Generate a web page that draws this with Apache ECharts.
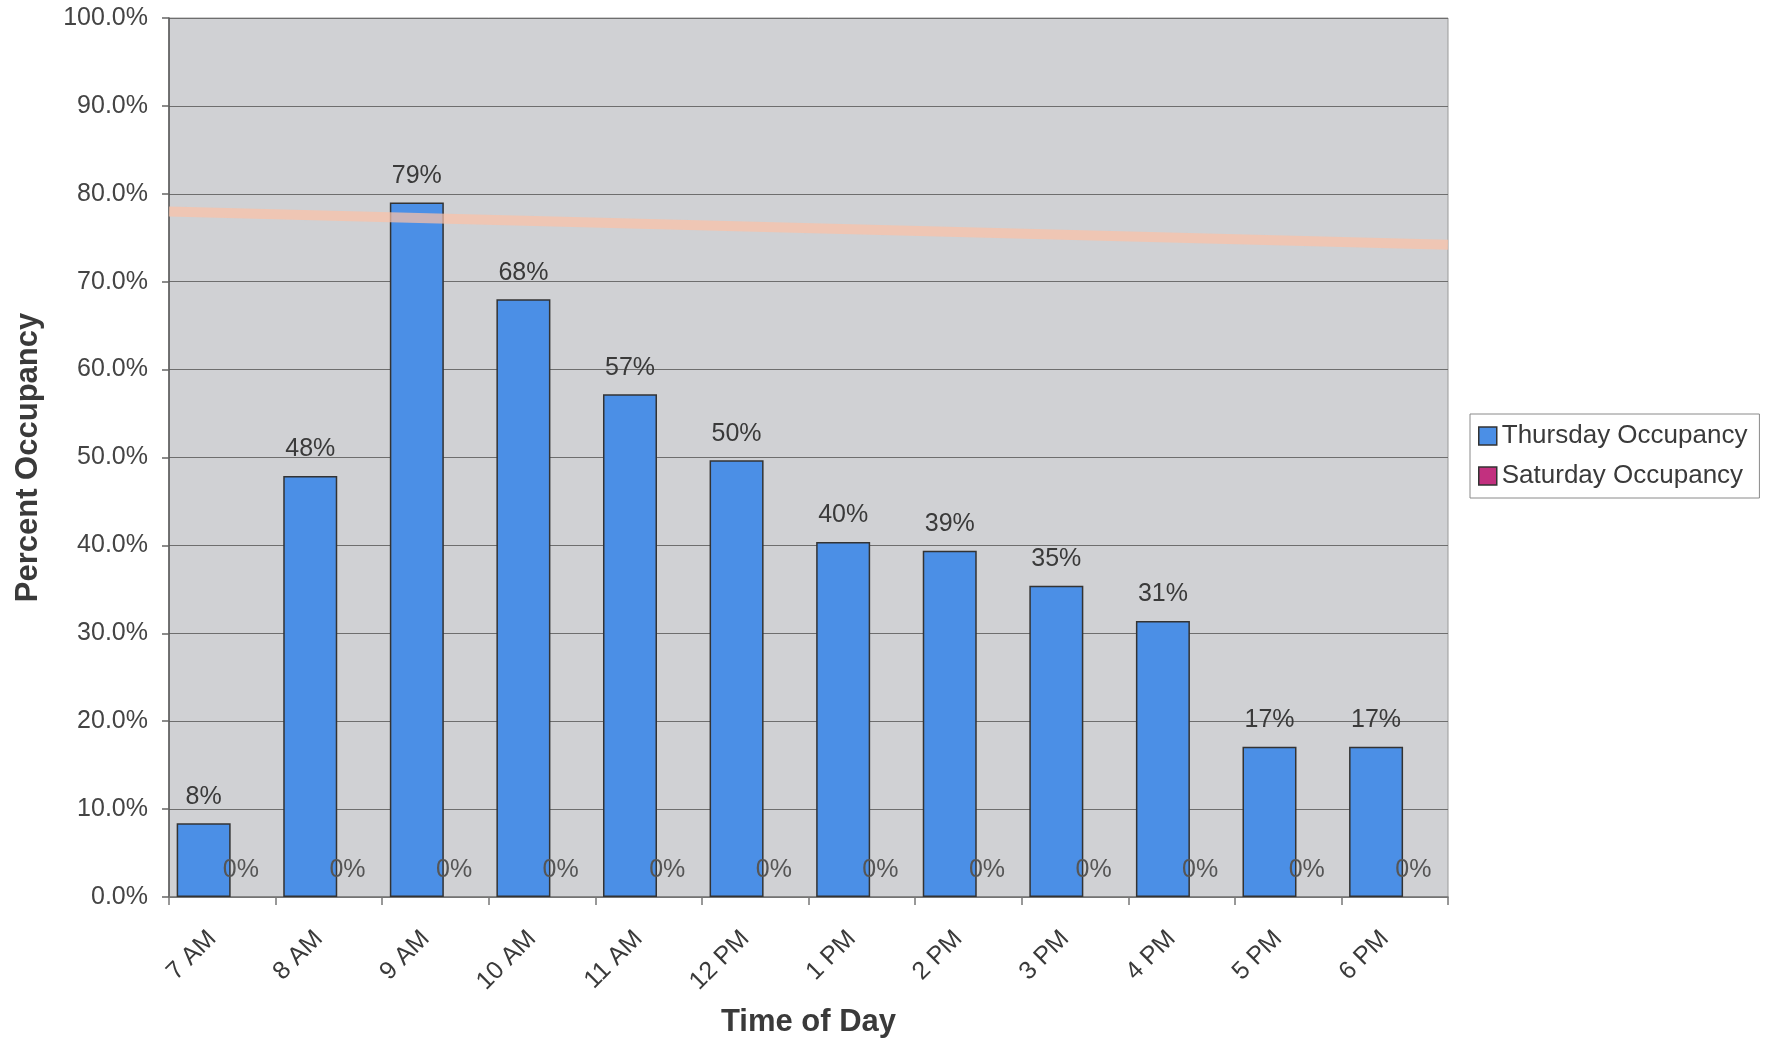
<!DOCTYPE html>
<html>
<head>
<meta charset="utf-8">
<title>Parking Occupancy by Time of Day</title>
<script src="https://cdn.jsdelivr.net/npm/echarts@6/dist/echarts.min.js"></script>
<style>
  html, body { margin: 0; padding: 0; background: #ffffff; }
  #chart { width: 1767px; height: 1042px; }
</style>
</head>
<body>
<div id="chart"></div>
<script>
// Hourly counts, in percent of capacity
const categories = ['7 AM', '8 AM', '9 AM', '10 AM', '11 AM', '12 PM', '1 PM', '2 PM', '3 PM', '4 PM', '5 PM', '6 PM'];
const thursdayOccupancy = [8.4, 47.9, 79.0, 68.0, 57.2, 49.7, 40.4, 39.4, 35.4, 31.4, 17.1, 17.1];
const saturdayOccupancy = [0, 0, 0, 0, 0, 0, 0, 0, 0, 0, 0, 0];
// Reference level running across the plot (start and end of the span)
const referenceLevel = [[0, 78.0], [1, 74.2]];
const yMin = 0, yMax = 100, yStep = 10;

const FONT = "'Liberation Sans', Arial, sans-serif";
const TEXT = '#3a3a3a';

const chart = echarts.init(document.getElementById('chart'), null, { renderer: 'canvas' });

chart.setOption({
  animation: false,
  backgroundColor: '#ffffff',
  textStyle: { fontFamily: FONT },
  grid: {
    left: 169, right: 319, top: 18, bottom: 145,
    outerBoundsMode: 'none',
    containLabel: false,
    show: true,
    backgroundColor: '#d0d1d4',
    borderColor: '#9a9a9a',
    borderWidth: 1
  },
  legend: {
    left: 1470, top: 414,
    orient: 'vertical',
    backgroundColor: '#ffffff',
    borderColor: '#8a8a8a',
    borderWidth: 1,
    padding: [9, 12, 9, 8],
    itemGap: 14,
    itemWidth: 18, itemHeight: 18,
    icon: 'rect',
    textStyle: { fontFamily: FONT, fontSize: 26, color: TEXT },
    data: [
      { name: 'Thursday Occupancy', itemStyle: { borderColor: '#333', borderWidth: 1.5 } },
      { name: 'Saturday Occupancy', itemStyle: { borderColor: '#333', borderWidth: 1.5 } }
    ]
  },
  xAxis: [
    {
      type: 'category',
      data: categories,
      boundaryGap: true,
      name: 'Time of Day',
      nameLocation: 'middle',
      nameGap: 110,
      nameTextStyle: { fontFamily: FONT, fontSize: 31, fontWeight: 'bold', color: TEXT },
      axisLine: { show: true, lineStyle: { color: '#777', width: 1.5 } },
      axisTick: { show: true, alignWithLabel: false, length: 8, lineStyle: { color: '#777', width: 1.5 } },
      axisLabel: {
        rotate: 45, margin: 28, padding: [0, 14, 0, 0],
        fontFamily: FONT, fontSize: 25, color: TEXT, interval: 0
      },
      splitLine: { show: false }
    },
    {
      type: 'value',
      min: 0, max: 1,
      show: false
    }
  ],
  yAxis: {
    type: 'value',
    min: yMin, max: yMax, interval: yStep,
    name: 'Percent Occupancy',
    nameLocation: 'middle',
    nameGap: 125,
    nameTextStyle: { fontFamily: FONT, fontSize: 31, fontWeight: 'bold', color: TEXT },
    axisLine: { show: true, lineStyle: { color: '#555', width: 1.5 } },
    axisTick: { show: true, length: 7, lineStyle: { color: '#666', width: 1.5 } },
    axisLabel: {
      margin: 21, fontFamily: FONT, fontSize: 25, color: '#444',
      formatter: v => v.toFixed(1) + '%'
    },
    splitLine: { show: true, lineStyle: { color: '#6e6e6e', width: 1.2 } }
  },
  series: [
    {
      name: 'Thursday Occupancy',
      type: 'bar',
      xAxisIndex: 0,
      data: thursdayOccupancy,
      barWidth: 54,
      barGap: '-31%',
      itemStyle: { color: '#4b8fe6', borderColor: '#333', borderWidth: 1.5 },
      label: {
        show: true, position: 'top', distance: 14,
        fontFamily: FONT, fontSize: 25, color: TEXT,
        formatter: p => Math.round(p.value) + '%'
      },
      z: 2
    },
    {
      name: 'Saturday Occupancy',
      type: 'bar',
      xAxisIndex: 0,
      data: saturdayOccupancy,
      barWidth: 54,
      barGap: '-31%',
      itemStyle: { color: '#c2307f', borderWidth: 0 },
      label: {
        show: true, position: 'top', distance: 14,
        fontFamily: FONT, fontSize: 25, color: '#555',
        formatter: p => Math.round(p.value) + '%'
      },
      z: 2
    },
    {
      name: 'Reference Level',
      type: 'line',
      xAxisIndex: 1,
      data: referenceLevel,
      symbol: 'none',
      silent: true,
      lineStyle: { color: '#fbc2a8', width: 10, opacity: 0.72 },
      z: 3
    }
  ]
});
</script>
</body>
</html>
